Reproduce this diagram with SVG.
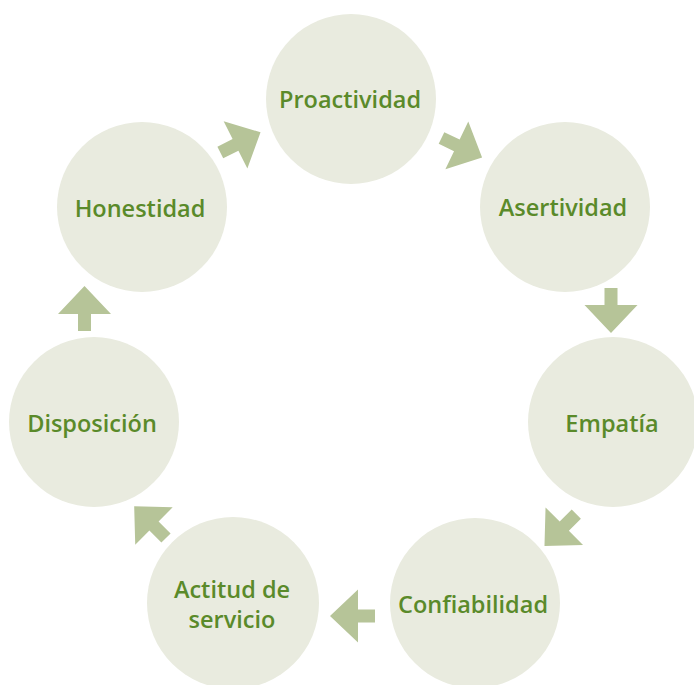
<svg xmlns="http://www.w3.org/2000/svg" width="694" height="685" viewBox="0 0 694 685">
<style>
.c{fill:#e9ebdf}
.t{fill:#5a8a2a;font-family:"Open Sans","Liberation Sans",sans-serif;font-weight:600;font-size:23.5px;text-anchor:middle}
.a{fill:#b6c498}
</style>
<defs>
<polygon id="arr" points="0,-6.5 17,-6.5 17,-26.5 45,0 17,26.5 17,6.5 0,6.5"/>
</defs>
<rect width="694" height="685" fill="#ffffff"/>
<g id="connectors">
<use href="#arr" class="a" transform="translate(220.3,152.5) rotate(-26.6)"/>
<use href="#arr" class="a" transform="translate(441.5,138) rotate(25.6)"/>
<use href="#arr" class="a" transform="translate(611,288) rotate(90)"/>
<use href="#arr" class="a" transform="translate(576.3,514.2) rotate(135)"/>
<use href="#arr" class="a" transform="translate(375,616) rotate(180)"/>
<use href="#arr" class="a" transform="translate(166,538) rotate(225)"/>
<use href="#arr" class="a" transform="translate(84.5,331) rotate(-90)"/>
</g>
<g id="proactividad"><circle class="c" cx="351" cy="99" r="85"/><text class="t" x="350" y="108">Proactividad</text></g>
<g id="asertividad"><circle class="c" cx="565" cy="207" r="85"/><text class="t" x="563" y="216">Asertividad</text></g>
<g id="empatia"><circle class="c" cx="613" cy="422" r="85"/><text class="t" x="612" y="432">Empatía</text></g>
<g id="confiabilidad"><circle class="c" cx="475" cy="603" r="85"/><text class="t" x="473" y="613">Confiabilidad</text></g>
<g id="actitud"><circle class="c" cx="233" cy="603" r="86"/><text class="t" x="232" y="598">Actitud de</text><text class="t" x="232" y="628">servicio</text></g>
<g id="disposicion"><circle class="c" cx="94" cy="422" r="85"/><text class="t" x="92" y="432">Disposición</text></g>
<g id="honestidad"><circle class="c" cx="142" cy="207" r="85"/><text class="t" x="140" y="217">Honestidad</text></g>
</svg>
